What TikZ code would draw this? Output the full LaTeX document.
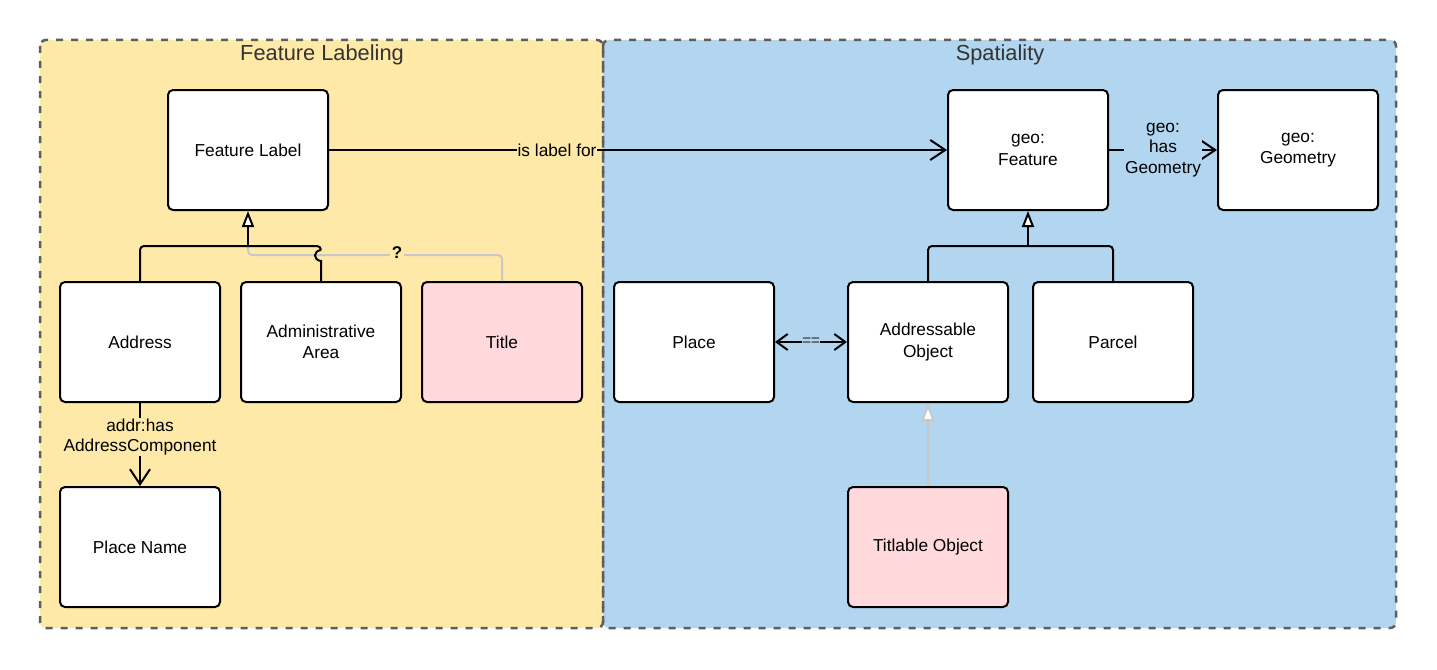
\documentclass[tikz,border=0pt]{standalone}
\usepackage{fontspec}
\setmainfont{Liberation Sans}
\usetikzlibrary{arrows.meta}
\definecolor{yel}{HTML}{FFE9A8}
\definecolor{blu}{HTML}{B2D6EF}
\definecolor{pnk}{HTML}{FFD9DC}
\definecolor{brd}{HTML}{5E5E5E}
\definecolor{gry}{HTML}{C8C8C8}
\definecolor{ttl}{HTML}{333333}
\begin{document}
\begin{tikzpicture}[x=1pt,y=-1pt,
  box/.style={draw=black, line width=2pt, rounded corners=5pt, fill=white,
    minimum width=160pt, minimum height=120pt, align=center,
    font=\fontsize{17.3}{21.5}\selectfont, inner sep=0pt},
  pinkbox/.style={box, fill=pnk},
  container/.style={draw=brd, line width=2.5pt, dash pattern=on 7pt off 8pt, rounded corners=6pt},
  ctitle/.style={font=\fontsize{21.8}{25}\selectfont, text=ttl},
  conn/.style={line width=2pt, draw=black},
  gconn/.style={line width=2pt, draw=gry},
  bigv/.style={-{Straight Barb[length=15pt,width=20pt,line width=2pt]}},
  smallv/.style={{Straight Barb[length=11pt,width=16pt,line width=2pt]}-{Straight Barb[length=11pt,width=16pt,line width=2pt]}},
  inh/.style={conn, -{Triangle[fill=white, length=16pt, width=12pt, line width=2pt]}},
  ginh/.style={gconn, -{Triangle[fill=white, length=18pt, width=13pt, line width=2pt]}},
  lbl/.style={font=\fontsize{17.3}{20.5}\selectfont, inner sep=1pt, align=center}
]
\useasboundingbox (0,0) rectangle (1437,669);
\fill[white] (0,0) rectangle (1437,669);
% containers
\fill[yel, rounded corners=6pt] (40,40) rectangle (603,628);
\fill[blu, rounded corners=6pt] (603,40) rectangle (1396,628);
\draw[container] (40,40) rectangle (603,628);
\draw[container] (603,40) rectangle (1396,628);
\node[ctitle] (t1) at (322,55) {Feature Labeling};
\node[ctitle] (t2) at (1000,55) {Spatiality};
% nodes
\node[box] (fl) at (248,150) {Feature Label};
\node[box] (gf) at (1028,150) {geo:\\Feature};
\node[box] (gg) at (1298,150) {geo:\\Geometry};
\node[box] (addr) at (140,342) {Address};
\node[box] (adm) at (321,342) {Administrative\\Area};
\node[pinkbox] (title) at (502,342) {Title};
\node[box] (pn) at (140,547) {Place Name};
\node[box] (place) at (694,342) {Place};
\node[box] (ao) at (928,342) {Addressable\\Object};
\node[box] (parcel) at (1113,342) {Parcel};
\node[pinkbox] (to) at (928,547) {Titlable Object};
% coordinates for junctions
\coordinate (j1) at (248,246);
\coordinate (g1) at (248,255);
\coordinate (g2) at (502,255);
\coordinate (h1) at (321,250);
\coordinate (h2) at (321,261);
\coordinate (j2) at (1028,246);
% gray "?" link from Title
\draw[gconn, rounded corners=4pt] (title.north) -- (g2) -- (g1) -- (j1);
\node[lbl, font=\fontsize{17}{20}\selectfont\bfseries, fill=yel, inner sep=2pt] (q) at (397,253) {?};
% Feature Label inheritance
\draw[conn, rounded corners=4pt] (addr.north) |- (321,246) -- (h1);
\draw[conn] (h1) .. controls (313,251) and (313,260) .. (h2) -- (adm.north);
\draw[inh] (j1) -- (fl.south);
% geo:Feature inheritance
\draw[conn, rounded corners=4pt] (ao.north) |- (parcel.north |- j2) -- (parcel.north);
\draw[inh] (j2) -- (gf.south);
% Titlable -> Addressable
\draw[ginh] (to.north) -- (ao.south);
% labelled relations
\draw[conn, bigv] (fl.east) -- node[lbl, fill=yel, pos=0.369] {is label for} (gf.west);
\draw[conn, bigv] (gf.east) -- node[lbl, fill=blu] {geo:\\has\\Geometry} (gg.west);
\draw[conn, bigv] (addr.south) -- node[lbl, fill=yel, pos=0.41] {addr:has\\AddressComponent} (pn.north);
\draw[conn, smallv] (place.east) -- node[fill=blu, inner sep=0.5pt, text=brd, font=\fontsize{15}{16}\selectfont\bfseries] (eq) {==} (ao.west);
\end{tikzpicture}
\end{document}
